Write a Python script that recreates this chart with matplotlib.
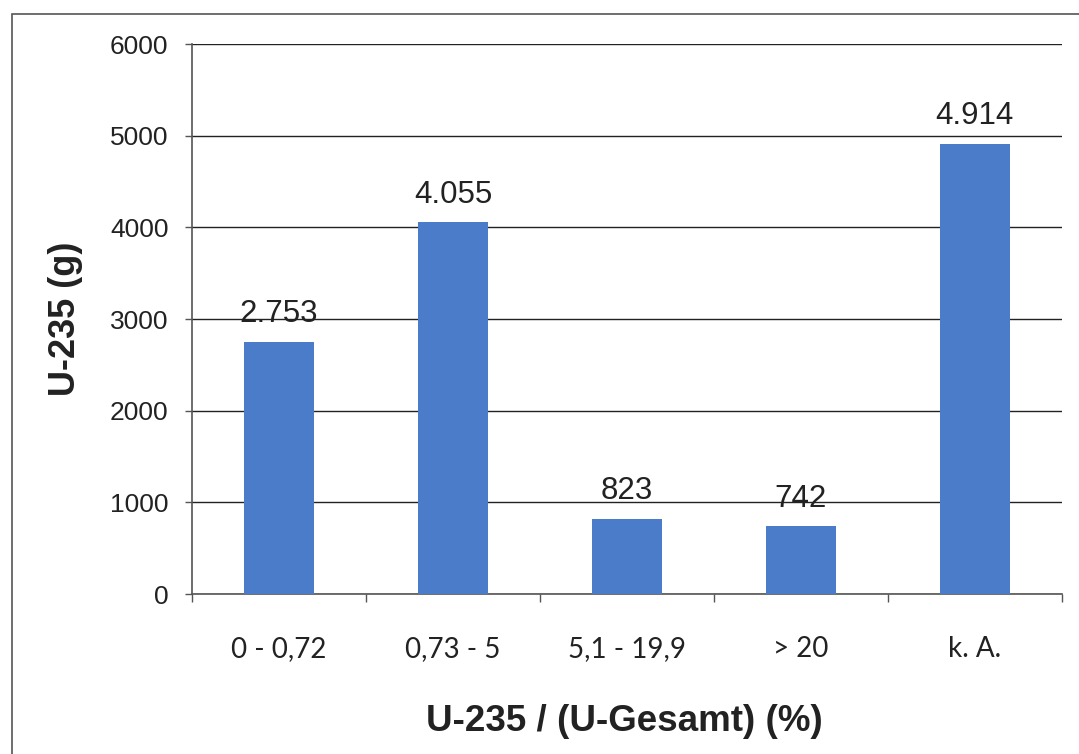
#!/usr/bin/env python3
# Bar chart: U-235 mass per enrichment class.

import matplotlib as mpl
import matplotlib.pyplot as plt
from matplotlib.patches import Rectangle

# Data.
categories = ["0 - 0,72", "0,73 - 5", "5,1 - 19,9", "> 20", "k. A."]
u235_grams = [2753, 4055, 823, 742, 4914]
y_ticks = [0, 1000, 2000, 3000, 4000, 5000, 6000]

BAR_COLOR = "#4a7cc9"
ARIAL = ["Liberation Sans", "DejaVu Sans"]
CALIBRI = ["Lato", "DejaVu Sans"]


def de_thousands(v: int) -> str:
    """German style thousands separator: 2753 -> 2.753"""
    return f"{v:,}".replace(",", ".")


def main():
    mpl.rcParams.update({"font.family": ARIAL})
    fig = plt.figure(figsize=(10.79, 7.54), dpi=100)
    ax = fig.add_axes([0.178, 0.212, 0.806, 0.7296])

    # outer frame of the scanned chart (open to the right/bottom edge)
    fig.patches.append(Rectangle((0.011, -0.05), 1.1, 1.031, transform=fig.transFigure,
                                 fill=False, edgecolor="#555555", linewidth=1.2))

    x = list(range(len(categories)))
    ax.bar(x, u235_grams, width=0.4, color=BAR_COLOR, zorder=3)

    for xi, v in zip(x, u235_grams):
        ax.annotate(de_thousands(v), (xi, v), xytext=(0, 9), textcoords="offset points",
                    ha="center", va="bottom", fontsize=22.5, color="#222222")

    ax.set_xlim(-0.5, len(categories) - 0.5)
    ax.set_ylim(0, 6000)
    ax.set_yticks(y_ticks)
    ax.tick_params(axis="y", labelsize=19, length=5, width=1, pad=12, color="#555555",
                   labelcolor="#222222")

    # category boundaries get the tick marks, centres get the labels
    ax.set_xticks([i - 0.5 for i in range(len(categories) + 1)])
    ax.set_xticklabels([])
    ax.set_xticks(x, minor=True)
    ax.set_xticklabels(categories, minor=True, family=CALIBRI, fontsize=20, color="#222222")
    ax.tick_params(axis="x", which="major", length=6, width=1, color="#555555", direction="out")
    ax.tick_params(axis="x", which="minor", length=0, pad=30)

    ax.grid(axis="y", color="#222222", linewidth=1.0, zorder=0)
    ax.set_axisbelow(True)
    for side in ["top", "right"]:
        ax.spines[side].set_visible(False)
    for side in ["left", "bottom"]:
        ax.spines[side].set_color("#555555")
        ax.spines[side].set_linewidth(1.2)

    ax.set_ylabel("U-235 (g)", fontsize=26, fontweight="bold", color="#222222")
    ax.yaxis.set_label_coords(-0.125, 0.5)
    ax.set_xlabel("U-235 / (U-Gesamt) (%)", fontsize=26.5, fontweight="bold", color="#222222")
    ax.xaxis.set_label_coords(0.497, -0.2)

    fig.savefig("out.png", dpi=100)


if __name__ == "__main__":
    main()
